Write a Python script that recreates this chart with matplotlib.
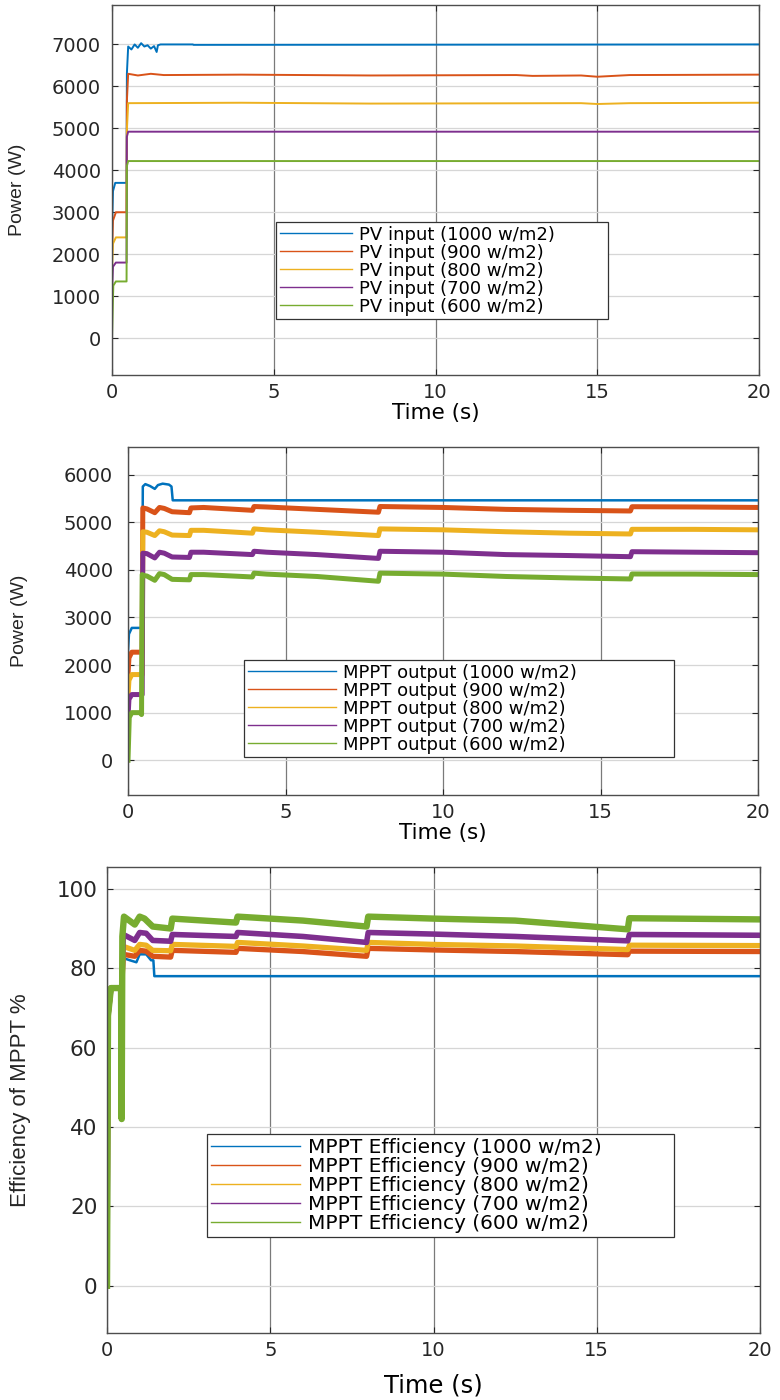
import matplotlib
matplotlib.use('Agg')
import matplotlib.pyplot as plt
from matplotlib.lines import Line2D

# MATLAB default line colours
colors = ['#0072BD', '#D95319', '#EDB120', '#7E2F8E', '#77AC30']
irradiance = ['1000', '900', '800', '700', '600']

# ---- Panel 1: PV input power (W), breakpoints ----
pv_t = [
    [0, 0.03, 0.1, 0.45, 0.46, 0.5, 0.6, 0.7, 0.8, 0.9, 1.0, 1.1, 1.2, 1.3, 1.38, 1.42, 1.5, 2.5, 2.52, 20],
    [0, 0.03, 0.12, 0.45, 0.46, 0.5, 0.8, 1.2, 1.6, 4.0, 8.0, 12.5, 13.0, 14.5, 15.0, 16.0, 20],
    [0, 0.03, 0.12, 0.45, 0.46, 0.5, 4.0, 8.0, 14.5, 15.0, 16.0, 20],
    [0, 0.03, 0.12, 0.45, 0.46, 0.5, 20],
    [0, 0.04, 0.12, 0.45, 0.46, 0.5, 20],
]
pv_p = [
    [2600, 3500, 3700, 3700, 6300, 6950, 6880, 7000, 6920, 7030, 6950, 6980, 6900, 6960, 6820, 6980, 7000, 7000, 6990, 7000],
    [2000, 2800, 3000, 3000, 5650, 6300, 6260, 6300, 6270, 6280, 6260, 6270, 6250, 6260, 6230, 6270, 6280],
    [1600, 2250, 2400, 2400, 4950, 5600, 5610, 5590, 5600, 5580, 5600, 5610],
    [1100, 1700, 1800, 1800, 4800, 4920, 4920],
    [0, 1250, 1350, 1350, 4100, 4220, 4220],
]

# ---- Panel 2: MPPT output power (W) ----
mppt_t = [
    [0, 0.03, 0.12, 0.45, 0.47, 0.55, 0.7, 0.85, 0.95, 1.1, 1.3, 1.38, 1.42, 20],
    [0, 0.03, 0.12, 0.45, 0.47, 0.6, 0.85, 1.0, 1.15, 1.4, 1.95, 2.0, 2.4, 3.95, 4.0, 4.4, 6.0, 7.95, 8.0, 10.0, 12.0, 14.0, 15.95, 16.0, 18.0, 20],
    [0, 0.03, 0.12, 0.45, 0.47, 0.6, 0.85, 1.0, 1.15, 1.4, 1.95, 2.0, 2.4, 3.95, 4.0, 4.4, 6.0, 7.95, 8.0, 10.0, 12.0, 14.0, 15.95, 16.0, 18.0, 20],
    [0, 0.03, 0.12, 0.45, 0.47, 0.6, 0.85, 1.0, 1.15, 1.4, 1.95, 2.0, 2.4, 3.95, 4.0, 4.4, 6.0, 7.95, 8.0, 10.0, 12.0, 14.0, 15.95, 16.0, 18.0, 20],
    [0, 0.04, 0.12, 0.4, 0.43, 0.45, 0.5, 0.6, 0.85, 1.0, 1.15, 1.4, 1.95, 2.0, 2.4, 3.95, 4.0, 4.4, 6.0, 7.95, 8.0, 10.0, 12.0, 14.0, 15.95, 16.0, 18.0, 20],
]
mppt_p = [
    [2300, 2650, 2780, 2780, 5750, 5800, 5760, 5700, 5780, 5810, 5790, 5750, 5460, 5460],
    [1800, 2150, 2270, 2270, 5300, 5280, 5200, 5310, 5290, 5220, 5200, 5300, 5310, 5250, 5330, 5320, 5270, 5210, 5330, 5310, 5270, 5250, 5236, 5326, 5320, 5310],
    [1350, 1680, 1800, 1800, 4800, 4790, 4720, 4820, 4800, 4730, 4720, 4830, 4830, 4770, 4860, 4840, 4790, 4720, 4860, 4840, 4800, 4770, 4753, 4851, 4850, 4840],
    [900, 1280, 1380, 1380, 4350, 4340, 4250, 4370, 4350, 4270, 4260, 4370, 4370, 4320, 4390, 4370, 4320, 4240, 4390, 4370, 4320, 4300, 4276, 4381, 4370, 4360],
    [0, 900, 1000, 1000, 960, 3900, 3880, 3870, 3780, 3920, 3900, 3800, 3790, 3900, 3900, 3850, 3930, 3910, 3860, 3760, 3930, 3910, 3860, 3830, 3808, 3913, 3910, 3900],
]

# ---- Panel 3: MPPT efficiency (%) ----
eff_t = [
    [0, 0.03, 0.12, 0.45, 0.47, 0.52, 0.7, 0.9, 1.0, 1.2, 1.35, 1.42, 1.45, 20],
    [0, 0.03, 0.12, 0.45, 0.5, 0.85, 1.0, 1.2, 1.4, 1.95, 2.0, 3.95, 4.0, 6.0, 7.95, 8.0, 10.0, 12.5, 15.95, 16.0, 20],
    [0, 0.03, 0.12, 0.45, 0.5, 0.85, 1.0, 1.2, 1.4, 1.95, 2.0, 3.95, 4.0, 6.0, 7.95, 8.0, 10.0, 12.5, 15.95, 16.0, 20],
    [0, 0.03, 0.12, 0.45, 0.5, 0.85, 1.0, 1.2, 1.4, 1.95, 2.0, 3.95, 4.0, 6.0, 7.95, 8.0, 10.0, 12.5, 15.95, 16.0, 20],
    [0, 0.03, 0.12, 0.43, 0.45, 0.47, 0.52, 0.85, 1.0, 1.15, 1.4, 1.95, 2.0, 3.95, 4.0, 6.0, 7.95, 8.0, 10.0, 12.5, 15.95, 16.0, 20],
]
eff_v = [
    [0, 68, 75, 75, 90, 82.5, 82, 81.5, 83.5, 83.5, 82, 82, 78, 78],
    [0, 68, 75, 75, 83.5, 83, 84.5, 84.3, 83, 82.8, 84.5, 84, 85, 84.2, 83, 85, 84.6, 84.2, 83.4, 84.3, 84.2],
    [0, 68, 75, 75, 85.5, 84.5, 86, 85.8, 84.5, 84.4, 86, 85.5, 86.5, 85.6, 84.5, 86.5, 86.0, 85.6, 84.7, 85.8, 85.7],
    [0, 68, 75, 75, 88.5, 87, 89, 88.8, 87, 86.8, 88.5, 88, 89, 88, 86.5, 89, 88.6, 88, 86.9, 88.5, 88.3],
    [0, 68, 75, 75, 42, 88, 93, 91, 93, 92.5, 90.5, 90, 92.5, 91.5, 93, 92, 90.5, 93, 92.5, 92, 89.8, 92.6, 92.3],
]

W, H = 780, 1400
fig = plt.figure(figsize=(W / 100, H / 100), dpi=100)
fig.patch.set_facecolor('white')


def px_axes(left, top, right, bottom):
    return fig.add_axes([left / W, 1 - bottom / H, (right - left) / W, (bottom - top) / H])


def style_axes(ax, ylim, yticks, ytick_size, ypad):
    ax.set_xlim(0, 20)
    ax.set_ylim(*ylim)
    ax.set_xticks([0, 5, 10, 15, 20])
    ax.set_yticks(yticks)
    ax.tick_params(direction='in', top=True, right=True, length=4, width=0.8,
                   color='#262626', labelcolor='#262626')
    ax.tick_params(axis='x', labelsize=14, pad=6)
    ax.tick_params(axis='y', labelsize=ytick_size, pad=ypad)
    ax.yaxis.grid(True, color='#d6d6d6', lw=0.9)
    ax.xaxis.grid(True, color='#7a7a7a', lw=0.9)
    ax.set_axisbelow(True)
    for s in ax.spines.values():
        s.set_color('#4d4d4d')
        s.set_linewidth(1.0)


def set_ylabel(ax, text, size, x_px, ax_left, ax_w):
    ax.set_ylabel(text, fontsize=size, family='Liberation Sans', color='#262626')
    ax.yaxis.set_label_coords((x_px - ax_left) / ax_w, 0.5)
    ax.yaxis.label.set_va('center')
    ax.yaxis.label.set_rotation_mode('default')


def add_legend(ax, labels, box, fontsize, handlelen):
    x0, y0, x1, y1 = box
    handles = [Line2D([0], [0], color=c, lw=1.0) for c in colors]
    leg = ax.legend(handles, labels, loc='upper left', mode='expand',
                    bbox_to_anchor=(x0 / W, 1 - y1 / H, (x1 - x0) / W, (y1 - y0) / H),
                    bbox_transform=fig.transFigure, borderaxespad=0,
                    handlelength=handlelen, handletextpad=0.4,
                    labelspacing=0.0, borderpad=0.2, fancybox=False, framealpha=1,
                    edgecolor='#333333', prop={'family': 'DejaVu Sans', 'size': fontsize})
    leg.get_frame().set_linewidth(0.9)


# Panel 1
ax1 = px_axes(112, 5, 759, 375)
for t, p, c in zip(pv_t, pv_p, colors):
    ax1.plot(t, p, color=c, lw=1.4)
style_axes(ax1, (-880, 7940), range(0, 7001, 1000), 14, 8)
set_ylabel(ax1, 'Power (W)', 14, 18, 112, 647)
ax1.set_xlabel('Time (s)', fontsize=15.5)
ax1.xaxis.set_label_coords(0.5, -38 / 370)
ax1.xaxis.label.set_va('center')
add_legend(ax1, [f'PV input ({g} w/m2)' for g in irradiance], (276, 222, 608, 317), 13, 4.0)

# Panel 2
ax2 = px_axes(128, 447, 758, 795)
lw2 = [1.8, 3.6, 3.6, 3.6, 3.6]
for t, p, c, lw in zip(mppt_t, mppt_p, colors, lw2):
    ax2.plot(t, p, color=c, lw=lw)
style_axes(ax2, (-730, 6580), range(0, 6001, 1000), 14, 11)
set_ylabel(ax2, 'Power (W)', 14, 20, 128, 630)
ax2.set_xlabel('Time (s)', fontsize=15.5)
ax2.xaxis.set_label_coords(0.5, -38 / 348)
ax2.xaxis.label.set_va('center')
add_legend(ax2, [f'MPPT output ({g} w/m2)' for g in irradiance], (244, 660, 674, 750), 13, 4.9)

# Panel 3
ax3 = px_axes(107, 867, 760, 1333)
lw3 = [1.8, 3.8, 3.8, 4.0, 4.6]
for t, v, c, lw in zip(eff_t, eff_v, colors, lw3):
    ax3.plot(t, v, color=c, lw=lw)
style_axes(ax3, (-11.9, 105.5), range(0, 101, 20), 15.5, 7)
set_ylabel(ax3, 'Efficiency of MPPT %', 16, 21, 107, 653)
ax3.set_xlabel('Time (s)', fontsize=17.5)
ax3.xaxis.set_label_coords(0.5, -52 / 466)
ax3.xaxis.label.set_va('center')
add_legend(ax3, [f'MPPT Efficiency ({g} w/m2)' for g in irradiance], (207, 1134, 674, 1236), 14.5, 4.4)

fig.savefig('out.png', dpi=100, facecolor='white')
